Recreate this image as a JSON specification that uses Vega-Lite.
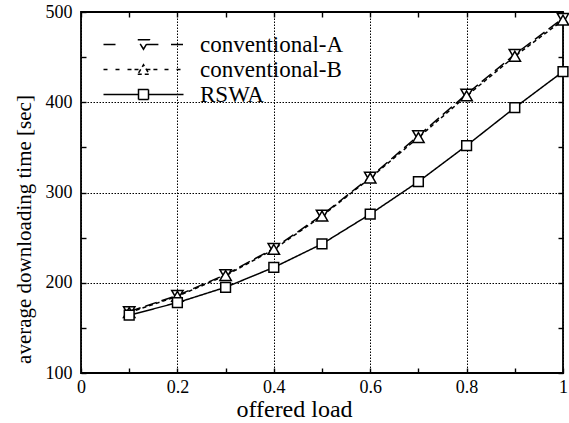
{
  "$schema": "https://vega.github.io/schema/vega-lite/v6.json",
  "width": 482,
  "height": 361,
  "autosize": "none",
  "padding": {"left": 81, "top": 12, "right": 6, "bottom": 50},
  "background": "white",
  "config": {
    "font": "Liberation Serif",
    "view": {"stroke": "black", "strokeWidth": 1.8},
    "axis": {
      "labelFont": "Liberation Serif",
      "titleFont": "Liberation Serif",
      "labelColor": "black",
      "titleColor": "black",
      "titleFontWeight": "normal",
      "labelFontSize": 18,
      "titleFontSize": 24,
      "domain": false,
      "tickColor": "black",
      "tickWidth": 1.4,
      "tickSize": -5,
      "gridColor": "black",
      "gridWidth": 1,
      "gridDash": [1.5, 1.5]
    }
  },
  "data": {
    "values": [
      {"load": 0.1, "series": "conventional-A", "time": 168},
      {"load": 0.2, "series": "conventional-A", "time": 186},
      {"load": 0.3, "series": "conventional-A", "time": 209},
      {"load": 0.4, "series": "conventional-A", "time": 238},
      {"load": 0.5, "series": "conventional-A", "time": 275},
      {"load": 0.6, "series": "conventional-A", "time": 317},
      {"load": 0.7, "series": "conventional-A", "time": 363},
      {"load": 0.8, "series": "conventional-A", "time": 409},
      {"load": 0.9, "series": "conventional-A", "time": 453},
      {"load": 1.0, "series": "conventional-A", "time": 493},
      {"load": 0.1, "series": "conventional-B", "time": 167},
      {"load": 0.2, "series": "conventional-B", "time": 185},
      {"load": 0.3, "series": "conventional-B", "time": 208},
      {"load": 0.4, "series": "conventional-B", "time": 237},
      {"load": 0.5, "series": "conventional-B", "time": 274},
      {"load": 0.6, "series": "conventional-B", "time": 316},
      {"load": 0.7, "series": "conventional-B", "time": 361},
      {"load": 0.8, "series": "conventional-B", "time": 407},
      {"load": 0.9, "series": "conventional-B", "time": 451},
      {"load": 1.0, "series": "conventional-B", "time": 491},
      {"load": 0.1, "series": "RSWA", "time": 164},
      {"load": 0.2, "series": "RSWA", "time": 178},
      {"load": 0.3, "series": "RSWA", "time": 195},
      {"load": 0.4, "series": "RSWA", "time": 217},
      {"load": 0.5, "series": "RSWA", "time": 243},
      {"load": 0.6, "series": "RSWA", "time": 276},
      {"load": 0.7, "series": "RSWA", "time": 312},
      {"load": 0.8, "series": "RSWA", "time": 352},
      {"load": 0.9, "series": "RSWA", "time": 394},
      {"load": 1.0, "series": "RSWA", "time": 434}
    ]
  },
  "resolve": {"axis": {"x": "independent", "y": "independent"}},
  "layer": [
    {
      "mark": {"type": "line", "strokeWidth": 1.5},
      "encoding": {
        "x": {
          "field": "load",
          "type": "quantitative",
          "scale": {"domain": [0, 1], "nice": false},
          "axis": {
            "orient": "bottom",
            "values": [0, 0.1, 0.2, 0.3, 0.4, 0.5, 0.6, 0.7, 0.8, 0.9, 1],
            "labelExpr": "round(datum.value*10)%2==0 ? format(datum.value, '~g') : ''",
            "grid": true,
            "gridOpacity": {"condition": {"test": "round(datum.value*10)%2==0", "value": 1}, "value": 0},
            "labelPadding": 10,
            "labelFlush": false,
            "title": "offered load",
            "titleX": 213,
            "titleY": 43.5,
            "titleBaseline": "alphabetic"
          }
        },
        "y": {
          "field": "time",
          "type": "quantitative",
          "scale": {"domain": [100, 500], "nice": false, "zero": false},
          "axis": {
            "orient": "left",
            "values": [100, 150, 200, 250, 300, 350, 400, 450, 500],
            "labelExpr": "round(datum.value)%100==0 ? format(datum.value, 'd') : ''",
            "grid": true,
            "gridOpacity": {"condition": {"test": "round(datum.value)%100==0", "value": 1}, "value": 0},
            "labelPadding": 14,
            "labelFlush": false,
            "title": "average downloading time [sec]",
            "titleFontSize": 21,
            "titleX": -51,
            "titleY": 217,
            "titleBaseline": "alphabetic"
          }
        },
        "strokeDash": {
          "field": "series",
          "type": "nominal",
          "scale": {
            "domain": ["conventional-A", "conventional-B", "RSWA"],
            "range": [[12, 5], [4, 3], [1, 0]]
          },
          "legend": null
        },
        "color": {
          "field": "series",
          "type": "nominal",
          "scale": {
            "domain": ["conventional-A", "conventional-B", "RSWA"],
            "range": ["black", "black", "black"]
          },
          "legend": {
            "orient": "none",
            "legendX": 51,
            "legendY": 21,
            "title": null,
            "padding": 0,
            "labelFont": "Liberation Serif",
            "labelFontSize": 23,
            "labelColor": "black",
            "symbolSize": 100,
            "symbolStrokeWidth": 1.5,
            "symbolStrokeColor": "black",
            "labelOffset": 45,
            "rowPadding": 1,
            "encode": {
              "symbols": {
                "update": {
                  "shape": {"signal": "datum.value === 'RSWA' ? 'M-8,0L-1,0M1,0L8,0M-1,-1L1,-1L1,1L-1,1Z' : datum.value === 'conventional-A' ? 'M-8,0L-5.2,0M0.58,0L3.1,0M5.5,0L8,0M-1.15,-0.95L1.15,-0.95L0,0.95Z' : 'M-8,0L-6.6,0M-5.6,0L-4.2,0M-3.2,0L-0.58,0M0.58,0L3.2,0M4.2,0L5.6,0M6.6,0L8,0M-1.15,0.95L1.15,0.95L0,-0.95Z'"},
                  "fill": {"value": "white"},
                  "stroke": {"value": "black"},
                  "opacity": {"value": 1}
                }
              }
            }
          }
        }
      }
    },
    {
      "transform": [{"filter": "datum.series === 'conventional-A'"}],
      "mark": {"type": "point", "shape": "triangle-down", "fill": "white", "stroke": "black", "strokeWidth": 1.5, "opacity": 1, "size": 130},
      "encoding": {
        "x": {
          "field": "load",
          "type": "quantitative",
          "scale": {"domain": [0, 1], "nice": false},
          "axis": {
            "orient": "top",
            "values": [0, 0.1, 0.2, 0.3, 0.4, 0.5, 0.6, 0.7, 0.8, 0.9, 1],
            "labels": false,
            "grid": false,
            "title": null
          }
        },
        "y": {
          "field": "time",
          "type": "quantitative",
          "scale": {"domain": [100, 500], "nice": false, "zero": false},
          "axis": {
            "orient": "right",
            "values": [100, 150, 200, 250, 300, 350, 400, 450, 500],
            "labels": false,
            "grid": false,
            "title": null
          }
        }
      }
    },
    {
      "transform": [{"filter": "datum.series === 'conventional-B'"}],
      "mark": {"type": "point", "shape": "triangle-up", "fill": "white", "stroke": "black", "strokeWidth": 1.5, "opacity": 1, "size": 130},
      "encoding": {
        "x": {"field": "load", "type": "quantitative", "axis": null},
        "y": {"field": "time", "type": "quantitative", "axis": null}
      }
    },
    {
      "transform": [{"filter": "datum.series === 'RSWA'"}],
      "mark": {"type": "point", "shape": "square", "fill": "white", "stroke": "black", "strokeWidth": 1.5, "opacity": 1, "size": 95},
      "encoding": {
        "x": {"field": "load", "type": "quantitative", "axis": null},
        "y": {"field": "time", "type": "quantitative", "axis": null}
      }
    }
  ]
}
